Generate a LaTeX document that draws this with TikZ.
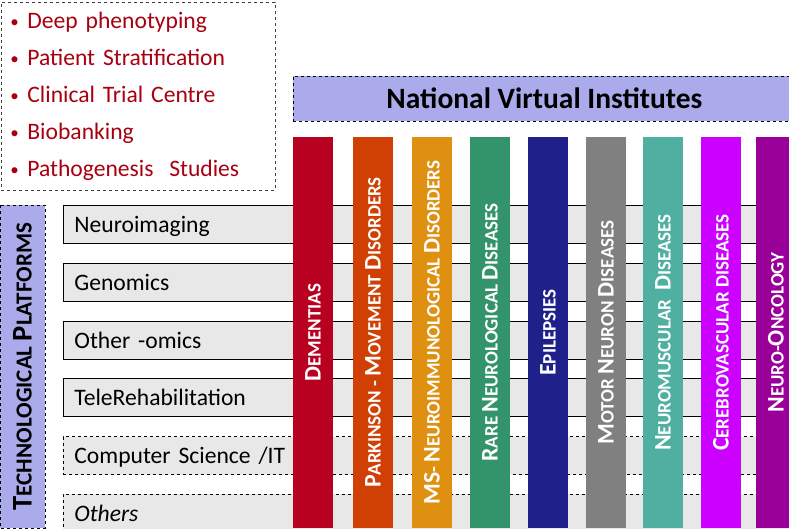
\documentclass[tikz,border=0pt]{standalone}
\usepackage{fontspec}
\setmainfont{Carlito}
\usepackage{xcolor}
\usetikzlibrary{positioning}

\definecolor{aimred}{RGB}{168,0,16}
\definecolor{lavender}{RGB}{171,171,235}
\definecolor{rowgrey}{RGB}{232,232,232}
\definecolor{dem}{RGB}{184,0,32}
\definecolor{park}{RGB}{208,64,4}
\definecolor{msn}{RGB}{224,144,16}
\definecolor{rare}{RGB}{51,148,108}
\definecolor{epi}{RGB}{32,32,138}
\definecolor{motor}{RGB}{128,128,128}
\definecolor{nmusc}{RGB}{79,175,160}
\definecolor{cereb}{RGB}{204,0,255}
\definecolor{onco}{RGB}{153,0,153}

\newcommand{\capl}[1]{{\fontsize{23.8}{23.8}\selectfont #1}}
\newcommand{\capL}[1]{{\fontsize{28.5}{28.5}\selectfont #1}}
\newcommand{\aimdot}{\makebox[17pt][l]{\raisebox{1pt}{\fontsize{17}{17}\selectfont\textbullet}}}

\tikzset{
  platform/.style={draw, rectangle, fill=rowgrey, line width=0.8pt, minimum width=740pt, minimum height=38pt,
    text width=718pt, text height=21pt, text depth=5pt, inner xsep=11pt, align=left, anchor=north west,
    font=\fontsize{23.6}{23.6}\selectfont},
  bar/.style={rectangle, rotate=90, minimum width=391pt, minimum height=40pt, inner sep=0pt,
    text=white, font=\bfseries\fontsize{19}{19}\selectfont},
  header/.style={draw, dashed, rectangle, fill=lavender, line width=0.8pt, minimum height=45pt}
}

\begin{document}
\begin{tikzpicture}[x=1pt, y=-1pt, node distance=19pt]
    \useasboundingbox (0,0) rectangle (789,528);
    \clip (0,0) rectangle (789,528);

    % Aims box
    \node[draw=black!75, dashed, line width=0.8pt, rectangle, minimum width=274pt, minimum height=188pt, anchor=north west,
      text width=256pt, inner xsep=9pt, align=left, text=aimred, font=\fontsize{23.6}{36.8}\selectfont] (aims) at (1,2)
      {\aimdot Deep phenotyping\\
       \aimdot Patient Stratification\\
       \aimdot Clinical Trial Centre\\
       \aimdot Biobanking\\
       \aimdot Pathogenesis\ \ Studies};

    % Headers
    \node[header, minimum width=502pt, anchor=west, font=\bfseries\fontsize{29.5}{29.5}\selectfont] (nvi) at (293,98.5) {National Virtual Institutes};
    \node[header, rotate=90, minimum width=323pt, font=\bfseries\fontsize{23}{23}\selectfont] (tech) at (22.5,366.5) {\capL{T}ECHNOLOGICAL \capL{P}LATFORMS};

    % Platforms
    \node[platform] (neuro) at (63,205) {Neuroimaging};
    \node[platform, below=of neuro] (geno) {Genomics};
    \node[platform, below=of geno] (omics) {Other -omics};
    \node[platform, below=of omics] (rehab) {TeleRehabilitation};
    \node[platform, dashed, below=of rehab] (cs) {Computer Science /IT};
    \node[platform, dashed, below=of cs] (others) {\itshape Others};

    % Institutes
    \node[bar, fill=dem] (dementias) at (313,332.5) {\capl{D}EMENTIAS};
    \node[bar, fill=park] (parkinson) at (373,332.5) {\capl{P}ARKINSON - \capl{M}OVEMENT \capl{D}ISORDERS};
    \node[bar, fill=msn] (ms) at (432,332.5) {\capl{MS}- \capl{N}EUROIMMUNOLOGICAL \capl{D}ISORDERS};
    \node[bar, fill=rare] (rare) at (490,332.5) {\capl{R}ARE \capl{N}EUROLOGICAL \capl{D}ISEASES};
    \node[bar, fill=epi] (epilepsies) at (548,332.5) {\capl{E}PILEPSIES};
    \node[bar, fill=motor] (motor) at (606,332.5) {\capl{M}OTOR \capl{N}EURON \capl{D}ISEASES};
    \node[bar, fill=nmusc] (nmusc) at (663,332.5) {\capl{N}EUROMUSCULAR\ \ \capl{D}ISEASES};
    \node[bar, fill=cereb] (cereb) at (721,332.5) {\capl{C}EREBROVASCULAR DISEASES};
    \node[bar, fill=onco] (onco) at (776,332.5) {\capl{N}EURO-\capl{O}NCOLOGY};
\end{tikzpicture}
\end{document}
